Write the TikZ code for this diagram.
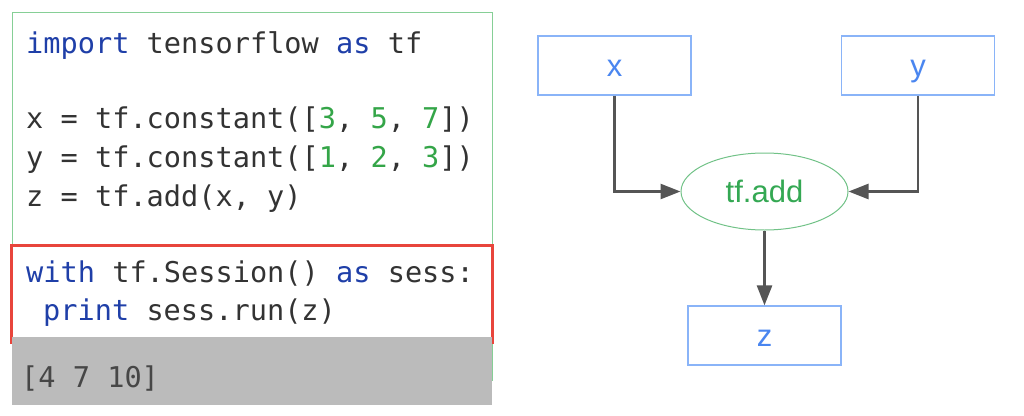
\documentclass[tikz,border=0pt]{standalone}
\usepackage{fontspec}
\usepackage{xcolor}
\setmainfont{Liberation Sans}
\newfontfamily\codefont{DejaVu Sans Mono}
\usetikzlibrary{shapes.geometric,arrows.meta,positioning}
\definecolor{kwBlue}{HTML}{1F3FA8}
\definecolor{numGreen}{HTML}{34A548}
\definecolor{codeGray}{HTML}{333333}
\definecolor{frameGreen}{HTML}{86CF96}
\definecolor{sessRed}{HTML}{E8453C}
\definecolor{outGray}{HTML}{BBBBBB}
\definecolor{nodeBlue}{HTML}{8AB4F8}
\definecolor{labelBlue}{HTML}{4A86F0}
\definecolor{addGreen}{HTML}{34A853}
\definecolor{arrGray}{HTML}{555555}
\newcommand{\kw}[1]{\textcolor{kwBlue}{#1}}
\newcommand{\num}[1]{\textcolor{numGreen}{#1}}
\frenchspacing

\begin{document}
\begin{tikzpicture}[
        x=1pt,y=-1pt,
        code/.style={anchor=base west,inner sep=0pt,text=codeGray,
                     font=\codefont\fontsize{28.6}{34}\selectfont},
        tensor/.style={rectangle,draw=nodeBlue,line width=1.2pt,fill=white,
                       minimum width=153pt,minimum height=59pt,text=labelBlue,
                       text height=24pt,text depth=3pt,
                       font=\fontsize{31}{36}\selectfont},
        op/.style={ellipse,draw=addGreen!70,line width=1pt,
                   minimum width=167pt,minimum height=77pt,text=addGreen,
                   text height=24pt,text depth=3pt,
                   font=\fontsize{31}{36}\selectfont},
        arr/.style={-{Triangle[length=20pt,width=15pt]},line width=2.6pt,color=arrGray}
      ]
        \useasboundingbox (0,0) rectangle (1024,415);
        % code panel
        \draw[frameGreen,line width=1pt] (12,12) rectangle (492,380);
        \draw[sessRed,line width=3.2pt] (11.5,245.5) rectangle (492.5,342);
        \fill[outGray] (12,337) rectangle (492,405);
        \node[code] (l1) at (26,53) {\kw{import} tensorflow \kw{as} tf};
        \node[code] (l2) at (26,128) {x = tf.constant([\num{3}, \num{5}, \num{7}])};
        \node[code] (l3) at (26,167) {y = tf.constant([\num{1}, \num{2}, \num{3}])};
        \node[code] (l4) at (26,206) {z = tf.add(x, y)};
        \node[code] (l5) at (26,282) {\kw{with} tf.Session() \kw{as} sess:};
        \node[code] (l6) at (43,320) {\kw{print} sess.run(z)};
        \node[code,text=black!72] (out) at (21,387) {[4 7 10]};
        % graph
        \node[tensor] (x) at (614.5,65.5) {x};
        \node[tensor] (y) at (918,65.5) {y};
        \node[op] (add) at (764.5,191.5) {tf.add};
        \node[tensor] (z) at (764.5,335.5) {z};
        \draw[arr] (x) |- (add);
        \draw[arr] (y) |- (add);
        \draw[arr] (add) -- (z);
      \end{tikzpicture}
\end{document}
